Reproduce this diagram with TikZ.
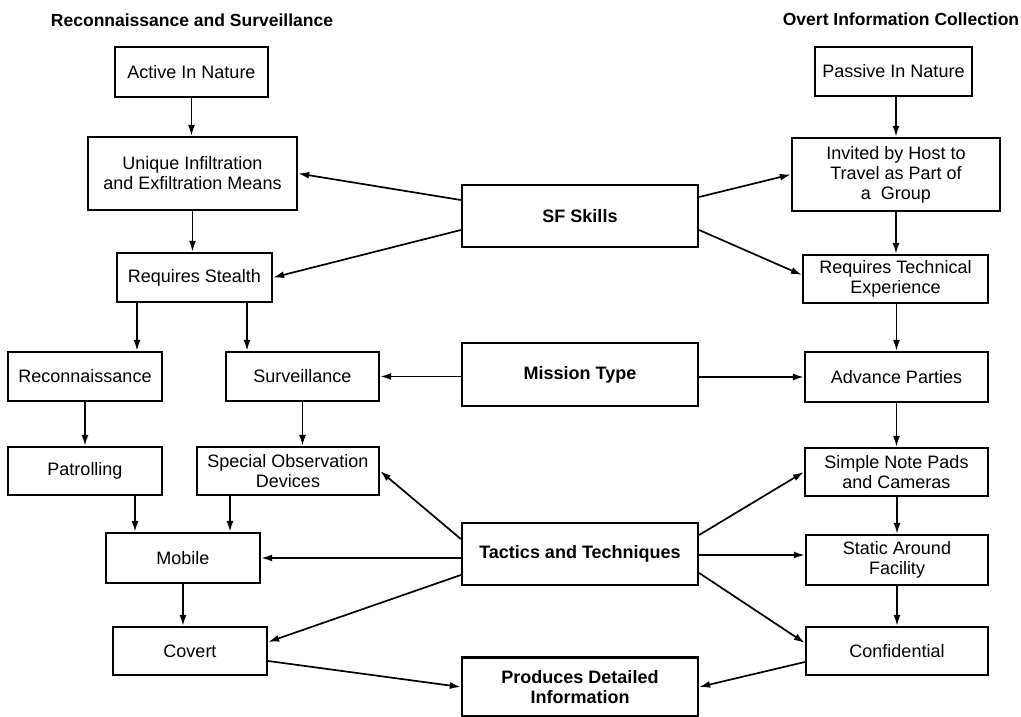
\documentclass[tikz,border=0pt]{standalone}
\usepackage{fontspec}
\setmainfont{Liberation Sans}
\usetikzlibrary{arrows.meta}
\begin{document}
\begin{tikzpicture}[x=1pt,y=-1pt,
  box/.style={draw, line width=2.3pt, inner sep=0pt, align=center,
    font=\fontsize{18}{20}\selectfont},
  bbox/.style={box, font=\fontsize{18}{20}\selectfont\bfseries},
  ttl/.style={font=\fontsize{17.5}{20}\selectfont\bfseries},
  arr/.style={line width=1.7pt, -{Latex[length=11pt,width=7pt]}}]
\useasboundingbox (0,0) rectangle (1021,717);
\node[ttl] (tl) at (192,20) {Reconnaissance and Surveillance};
\node[ttl] (tr) at (901,19) {Overt Information Collection};
% left column
\node[box, minimum width=153pt, minimum height=50pt] (active) at (191.5,72) {Active In Nature};
\node[box, minimum width=209pt, minimum height=73pt] (unique) at (192.5,173.5) {Unique Infiltration\\and Exfiltration Means};
\node[box, minimum width=155pt, minimum height=49pt] (stealth) at (194.5,277.5) {Requires Stealth};
\node[box, minimum width=154pt, minimum height=49pt] (recon) at (85,376.5) {Reconnaissance};
\node[box, minimum width=153pt, minimum height=49pt] (surv) at (302.5,376.5) {Surveillance};
\node[box, minimum width=154pt, minimum height=48pt] (patrol) at (85,471) {Patrolling};
\node[box, minimum width=182pt, minimum height=48pt] (specobs) at (288,471) {Special Observation\\Devices};
\node[box, minimum width=154pt, minimum height=50pt] (mobile) at (183,558) {Mobile};
\node[box, minimum width=154pt, minimum height=48pt] (covert) at (190,651) {Covert};
% center column
\node[bbox, minimum width=236pt, minimum height=62pt] (sf) at (580,216) {SF Skills};
\node[bbox, minimum width=236pt, minimum height=63pt] (mission) at (580,374.5) {Mission Type};
\node[bbox, minimum width=236pt, minimum height=62pt] (tactics) at (580,554) {Tactics and Techniques};
\node[bbox, minimum width=236pt, minimum height=59pt] (produces) at (580,687) {Produces Detailed\\Information};
% right column
\node[box, minimum width=157pt, minimum height=49pt] (passive) at (893.5,71.5) {Passive In Nature};
\node[box, minimum width=208pt, minimum height=73pt] (invited) at (896,174.5) {Invited by Host to\\Travel as Part of\\a~~Group};
\node[box, minimum width=185pt, minimum height=48pt] (reqtech) at (895.5,279) {Requires Technical\\Experience};
\node[box, minimum width=183pt, minimum height=50pt] (advance) at (896.5,377) {Advance Parties};
\node[box, minimum width=183pt, minimum height=48pt] (simple) at (896.5,472) {Simple Note Pads\\and Cameras};
\node[box, minimum width=182pt, minimum height=50pt] (static) at (897,560) {Static Around\\Facility};
\node[box, minimum width=182pt, minimum height=48pt] (conf) at (897,651) {Confidential};
% left vertical arrows
\draw[arr] (active.south) -- (active.south |- unique.north);
\draw[arr] (unique.south) -- (unique.south |- stealth.north);
\draw[arr] ([xshift=-57.5pt]stealth.south) -- ([xshift=-57.5pt]stealth.south |- recon.north);
\draw[arr] ([xshift=52.5pt]stealth.south) -- ([xshift=52.5pt]stealth.south |- surv.north);
\draw[arr] (recon.south) -- (recon.south |- patrol.north);
\draw[arr] (surv.south) -- (surv.south |- specobs.north);
\draw[arr] ([xshift=50pt]patrol.south) -- ([xshift=50pt]patrol.south |- mobile.north);
\draw[arr] ([xshift=-58pt]specobs.south) -- ([xshift=-58pt]specobs.south |- mobile.north);
\draw[arr] (mobile.south) -- (mobile.south |- covert.north);
% right vertical arrows
\draw[arr] (passive.south -| invited) -- (invited.north);
\draw[arr] (invited.south) -- (invited.south |- reqtech.north);
\draw[arr] (reqtech.south -| advance) -- (advance.north);
\draw[arr] (advance.south) -- (advance.south |- simple.north);
\draw[arr] (simple.south -| static) -- (static.north);
\draw[arr] (static.south) -- (static.south |- conf.north);
% SF skills
\draw[arr] ([yshift=16pt]sf.west) -- (unique.east);
\draw[arr] ([yshift=-14pt]sf.west) -- (stealth.east);
\draw[arr] ([yshift=19pt]sf.east) -- (invited.west);
\draw[arr] ([yshift=-14pt]sf.east) -- ([yshift=4pt]reqtech.west);
% mission type
\draw[arr] (mission.west |- surv.east) -- (surv.east);
\draw[arr] (mission.east |- advance.west) -- (advance.west);
% tactics
\draw[arr] ([yshift=15pt]tactics.west) -- (specobs.east);
\draw[arr] (tactics.west |- mobile.east) -- (mobile.east);
\draw[arr] ([yshift=-21pt]tactics.west) -- ([yshift=9pt]covert.east);
\draw[arr] ([yshift=19pt]tactics.east) -- (simple.west);
\draw[arr] ([yshift=-1pt]tactics.east) -- ([yshift=-1pt]tactics.east -| static.west);
\draw[arr] ([yshift=-19pt]tactics.east) -- ([yshift=8pt]conf.west);
% produces
\draw[arr] ([yshift=-10pt]covert.east) -- (produces.west);
\draw[arr] ([yshift=-11pt]conf.west) -- (produces.east);
\end{tikzpicture}
\end{document}
